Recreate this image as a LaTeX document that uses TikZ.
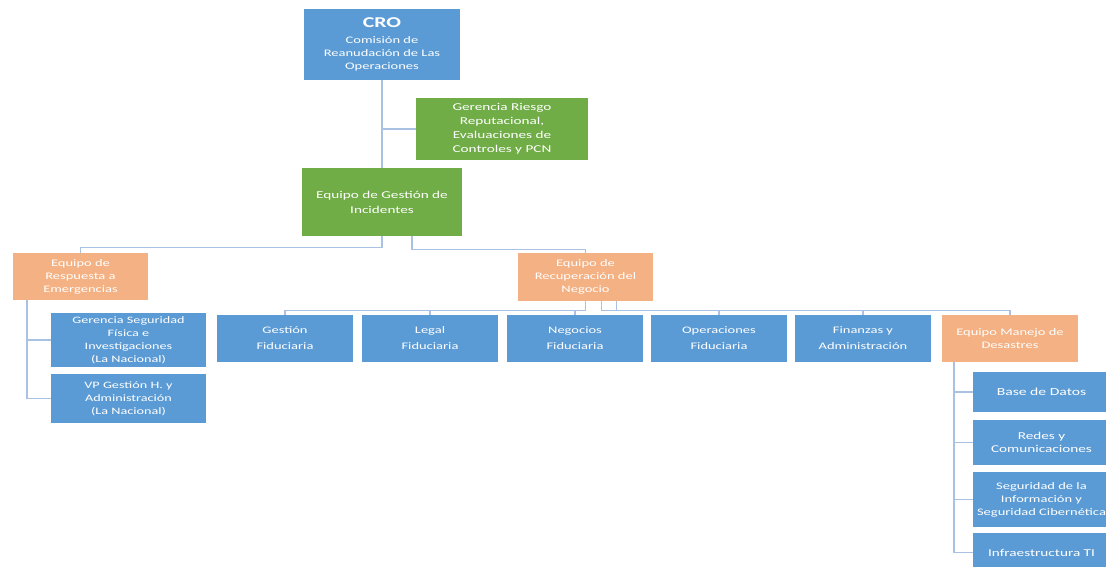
\documentclass[tikz,border=0pt]{standalone}
\usepackage{fontspec}
\setmainfont{Carlito}
\newfontfamily\orgfont[FakeStretch=1.45]{Carlito}
\definecolor{OrgBlue}{HTML}{5B9BD5}
\definecolor{OrgGreen}{HTML}{70AD47}
\definecolor{OrgOrange}{HTML}{F4B183}
\definecolor{OrgLine}{HTML}{A9C2E4}

\begin{document}
\begin{tikzpicture}[x=1pt, y=-1pt,
  orgbox/.style 2 args={minimum width=#1, minimum height=#2, inner sep=1pt,
    align=center, text=white, font=\orgfont\fontsize{10}{13}\selectfont},
  bluebox/.style={fill=OrgBlue},
  greenbox/.style={fill=OrgGreen},
  orangebox/.style={fill=OrgOrange},
  link/.style={draw=OrgLine, line width=1.4pt}]

  \useasboundingbox (0,0) rectangle (1106,566);

  % --- 1. 上位の委員会とチーム ---
  \node[orgbox={156}{71}, bluebox] (CRO) at (382,44.5)
    {{\fontsize{15}{17}\selectfont\bfseries CRO}\\[3pt]
     Comisión de\\Reanudación de Las\\Operaciones};
  \node[orgbox={172}{62}, greenbox, font=\orgfont\fontsize{10.5}{14}\selectfont] (Riesgo) at (502,129)
    {Gerencia Riesgo\\Reputacional,\\Evaluaciones de\\Controles y PCN};
  \node[orgbox={160}{68}, greenbox, font=\orgfont\fontsize{10.5}{15}\selectfont] (Gestion) at (382,202)
    {Equipo de Gestión de\\Incidentes};

  % --- 2. 二つの対応チーム ---
  \node[orgbox={135}{47}, orangebox] (Respuesta) at (80.5,276.5)
    {Equipo de\\Respuesta a\\Emergencias};
  \node[orgbox={135}{48}, orangebox] (Recuperacion) at (585.5,277)
    {Equipo de\\Recuperación del\\Negocio};

  % (i) 緊急対応チームの下
  \node[orgbox={155}{54}, bluebox, font=\orgfont\fontsize{9.8}{13}\selectfont] (SegFisica) at (128.5,340)
    {Gerencia Seguridad\\Física e\\Investigaciones\\(La Nacional)};
  \node[orgbox={155}{49}, bluebox, font=\orgfont\fontsize{9.8}{13}\selectfont] (VPGestion) at (128.5,398.5)
    {VP Gestión H. y\\Administración\\(La Nacional)};

  % (ii) 事業回復チームの下
  \node[orgbox={136}{47}, bluebox, font=\orgfont\fontsize{10}{16}\selectfont] (GestionFid) at (285,338.5) {Gestión\\Fiduciaria};
  \node[orgbox={136}{47}, bluebox, font=\orgfont\fontsize{10}{16}\selectfont] (LegalFid) at (430,338.5) {Legal\\Fiduciaria};
  \node[orgbox={136}{47}, bluebox, font=\orgfont\fontsize{10}{16}\selectfont] (NegociosFid) at (575,338.5) {Negocios\\Fiduciaria};
  \node[orgbox={136}{47}, bluebox, font=\orgfont\fontsize{10}{16}\selectfont] (OperFid) at (719,338.5) {Operaciones\\Fiduciaria};
  \node[orgbox={136}{47}, bluebox, font=\orgfont\fontsize{10}{16}\selectfont] (Finanzas) at (863,338.5) {Finanzas y\\Administración};
  \node[orgbox={136}{47}, orangebox] (Manejo) at (1010,338.5) {Equipo Manejo de\\Desastres};

  % (iii) 災害対応チームの下（右端で切れる）
  \node[orgbox={137}{40}, bluebox, font=\orgfont\fontsize{10.8}{13}\selectfont] (BaseDatos) at (1041.5,392) {Base de Datos};
  \node[orgbox={137}{45}, bluebox, font=\orgfont\fontsize{10.5}{13}\selectfont] (Redes) at (1041.5,442.5) {Redes y\\Comunicaciones};
  \node[orgbox={137}{55}, bluebox] (SegInfo) at (1041.5,499.5)
    {Seguridad de la\\Información y\\Seguridad Cibernética};
  \node[orgbox={137}{39}, bluebox, font=\orgfont\fontsize{10.5}{13}\selectfont] (Infra) at (1041.5,552.5) {Infraestructura TI};

  % --- 3. 接続線 ---
  \draw[link] (CRO.south) -- (Gestion.north);
  \draw[link] (Riesgo.west) -- (Riesgo.west -| CRO.south);
  \draw[link] (Gestion.south) -- ++(0,11) -| (Respuesta.north);
  \draw[link] ([xshift=30pt]Gestion.south) -- ++(0,13) -| (Recuperacion.north);

  \draw[link] ([xshift=14pt]Respuesta.south west) |- (SegFisica.west);
  \draw[link] ([xshift=14pt]Respuesta.south west) |- (VPGestion.west);

  \foreach \Child in {GestionFid, LegalFid, NegociosFid}
    \draw[link] (Recuperacion.south) -- ++(0,9) -| (\Child.north);
  \foreach \Child in {OperFid, Finanzas}
    \draw[link] ([xshift=16pt]Recuperacion.south) -- ++(0,9) -| (\Child.north);
  \draw[link] ([xshift=31pt]Recuperacion.south) -- ++(0,9) -| (Manejo.north);

  \foreach \Child in {BaseDatos, Redes, SegInfo, Infra}
    \draw[link] ([xshift=12pt]Manejo.south west) |- (\Child.west);

\end{tikzpicture}
\end{document}
